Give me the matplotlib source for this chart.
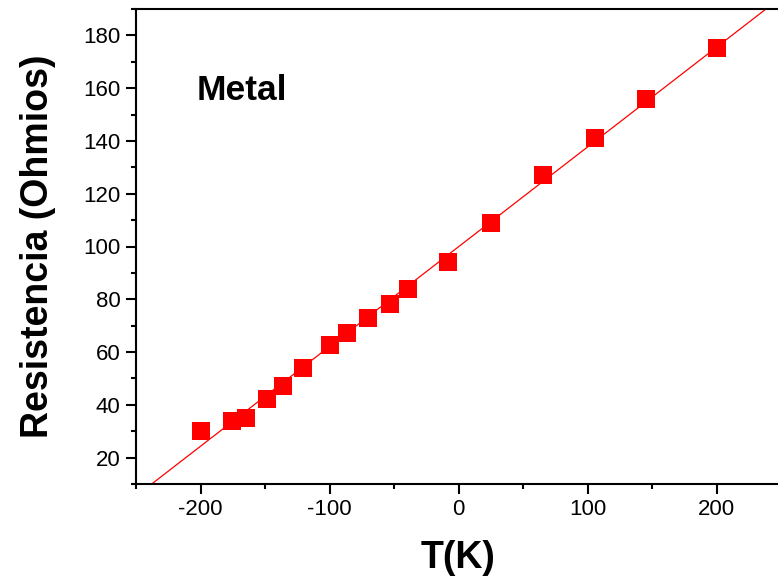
import numpy as np
import matplotlib
matplotlib.use("Agg")
import matplotlib.pyplot as plt
from matplotlib.ticker import MultipleLocator

plt.rcParams['font.family'] = ['Liberation Sans', 'DejaVu Sans']
plt.rcParams['axes.unicode_minus'] = False

temperature = [-200, -175.6, -164.7, -148.4, -136, -120.5, -99.6, -86.4, -70, -53,
               -39, -8, 25.2, 65.5, 105.8, 145.3, 200.4]
resistance = [30.0, 33.8, 34.9, 42.1, 47.0, 53.9, 62.6, 67.1, 72.8, 78.1,
              83.8, 94.0, 108.8, 127.0, 141.0, 155.8, 175.2]
fit_slope = 0.378
fit_intercept = 99.9

fig = plt.figure(figsize=(7.78, 5.86), dpi=100)
ax = fig.add_axes([136/778, 102/586, 645/778, 475/586])

xl = np.array([-250, 250])
ax.plot(xl, fit_slope*xl + fit_intercept, color='#FF0000', lw=0.9, zorder=2)
ax.plot(temperature, resistance, linestyle='none', marker='s', markersize=13,
        color='#FF0000', markeredgewidth=0, zorder=3)

ax.set_xlim(-250, 250)
ax.set_ylim(10, 190)
ax.xaxis.set_major_locator(MultipleLocator(100))
ax.xaxis.set_minor_locator(MultipleLocator(50))
ax.yaxis.set_minor_locator(MultipleLocator(10))
ax.set_yticks(np.arange(20, 181, 20))

for s in ['left', 'bottom', 'top']:
    ax.spines[s].set_linewidth(1.5)
ax.spines['right'].set_visible(False)

ax.tick_params(which='major', direction='out', length=7, width=1.5, labelsize=16, pad=4)
ax.tick_params(which='minor', direction='out', length=3.5, width=1.5)
ax.tick_params(top=False, right=False, which='both')

ax.set_xlabel('T(K)', fontsize=27, fontweight='bold', labelpad=14)
ax.set_ylabel('Resistencia (Ohmios)', fontsize=27, fontweight='bold', labelpad=20)

ax.text(0.094, 0.829, 'Metal', transform=ax.transAxes, fontsize=25.5,
        fontweight='bold', ha='left', va='center')

fig.savefig('out.png', dpi=100)
